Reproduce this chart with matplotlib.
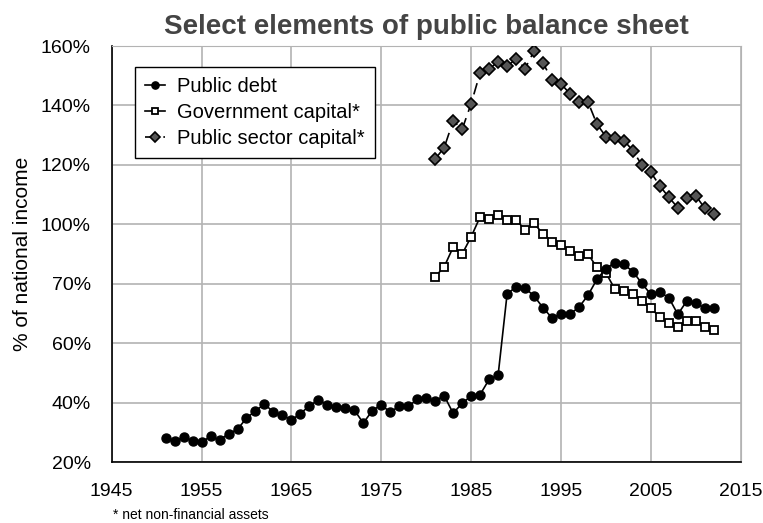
import matplotlib
matplotlib.use('Agg')
import matplotlib.pyplot as plt
import numpy as np

plt.rcParams['font.family'] = ['Liberation Sans', 'DejaVu Sans']

# data (% of national income)
debt_years = list(range(1951, 2013))
public_debt = [28.2, 27.2, 28.3, 27.2, 26.7, 28.6, 27.4, 29.5, 31.0, 34.8,
               37.2, 39.5, 36.8, 35.8, 34.1, 36.3, 38.9, 40.9, 39.3, 38.6,
               38.2, 37.5, 33.1, 37.3, 39.3, 36.7, 38.9, 38.7, 41.1, 41.4,
               40.6, 42.3, 36.4, 39.8, 42.2, 42.7, 47.8, 49.2, 76.5, 79.0,
               78.5, 75.9, 71.9, 68.5, 69.8, 69.8, 72.1, 76.1, 81.5, 85.1,
               87.1, 86.5, 84.1, 80.1, 76.4, 77.2, 75.3, 69.7, 74.2, 73.6,
               71.7, 71.9]

cap_years = list(range(1981, 2013))
gov_capital = [82.4, 85.7, 92.3, 90.0, 95.8, 102.5, 101.7, 103.2, 101.6, 101.6,
               98.1, 100.3, 96.8, 94.2, 93.0, 91.1, 89.4, 90.0, 85.5, 83.6,
               78.2, 77.5, 76.5, 74.2, 71.7, 68.8, 66.9, 65.3, 67.5, 67.6,
               65.3, 64.4]
public_sector_capital = [122.0, 125.8, 134.8, 132.0, 140.6, 151.0, 152.3, 154.7,
                         153.2, 155.7, 152.4, 158.3, 154.3, 148.5, 147.3, 143.9,
                         141.2, 141.2, 133.7, 129.5, 129.1, 128.2, 124.8, 119.9,
                         117.5, 112.9, 109.1, 105.6, 109.0, 109.6, 105.4, 103.5]

x_ticks = [1945, 1955, 1965, 1975, 1985, 1995, 2005, 2015]
y_ticks = [20, 40, 60, 80, 100, 120, 140, 160]
y_labels = ['20%', '40%', '60%', '70%', '100%', '120%', '140%', '160%']

fig = plt.figure(figsize=(7.63, 5.23), dpi=100)
ax = fig.add_axes([0.1464, 0.1166, 0.8244, 0.7954])

ax.plot(debt_years, public_debt, '-', color='black', lw=1.2,
        marker='o', ms=6.5, mfc='black', mec='black', label='Public debt', zorder=4)
ax.plot(cap_years, gov_capital, '-', color='black', lw=1.2,
        marker='s', ms=5.5, mfc='white', mec='black', mew=1.3,
        label='Government capital*', zorder=3)
ax.plot(cap_years, public_sector_capital, color='black', lw=1.2, dashes=(7, 4),
        marker='D', ms=6, mfc='#555555', mec='black', mew=1.2,
        label='Public sector capital*', zorder=3)

ax.set_xlim(1945, 2015)
ax.set_ylim(20, 160)
ax.set_xticks(x_ticks)
ax.set_yticks(y_ticks)
ax.set_yticklabels(y_labels)
ax.tick_params(length=0, labelsize=14, pad=15)
ax.grid(True, color='#b3b3b3', lw=1.2)
ax.set_axisbelow(True)
for s in ['top', 'right']:
    ax.spines[s].set_color('#b3b3b3')
for s in ['left', 'bottom']:
    ax.spines[s].set_color('black')
    ax.spines[s].set_linewidth(1.2)

ax.set_ylabel('% of national income', fontsize=15, labelpad=6)
ax.set_title('Select elements of public balance sheet', fontsize=20,
             fontweight='bold', color='#444444', pad=9)

leg = ax.legend(loc='upper left', bbox_to_anchor=(0.037, 0.95), fontsize=14.5,
                frameon=True, fancybox=False, edgecolor='black', framealpha=1,
                handlelength=1.0, handletextpad=0.6, markerscale=0.8,
                borderpad=0.5, labelspacing=0.35, borderaxespad=0)
leg.get_frame().set_linewidth(1.0)

fig.text(0.148, 0.008, '* net non-financial assets', fontsize=10)

fig.savefig('out.png', dpi=100)
